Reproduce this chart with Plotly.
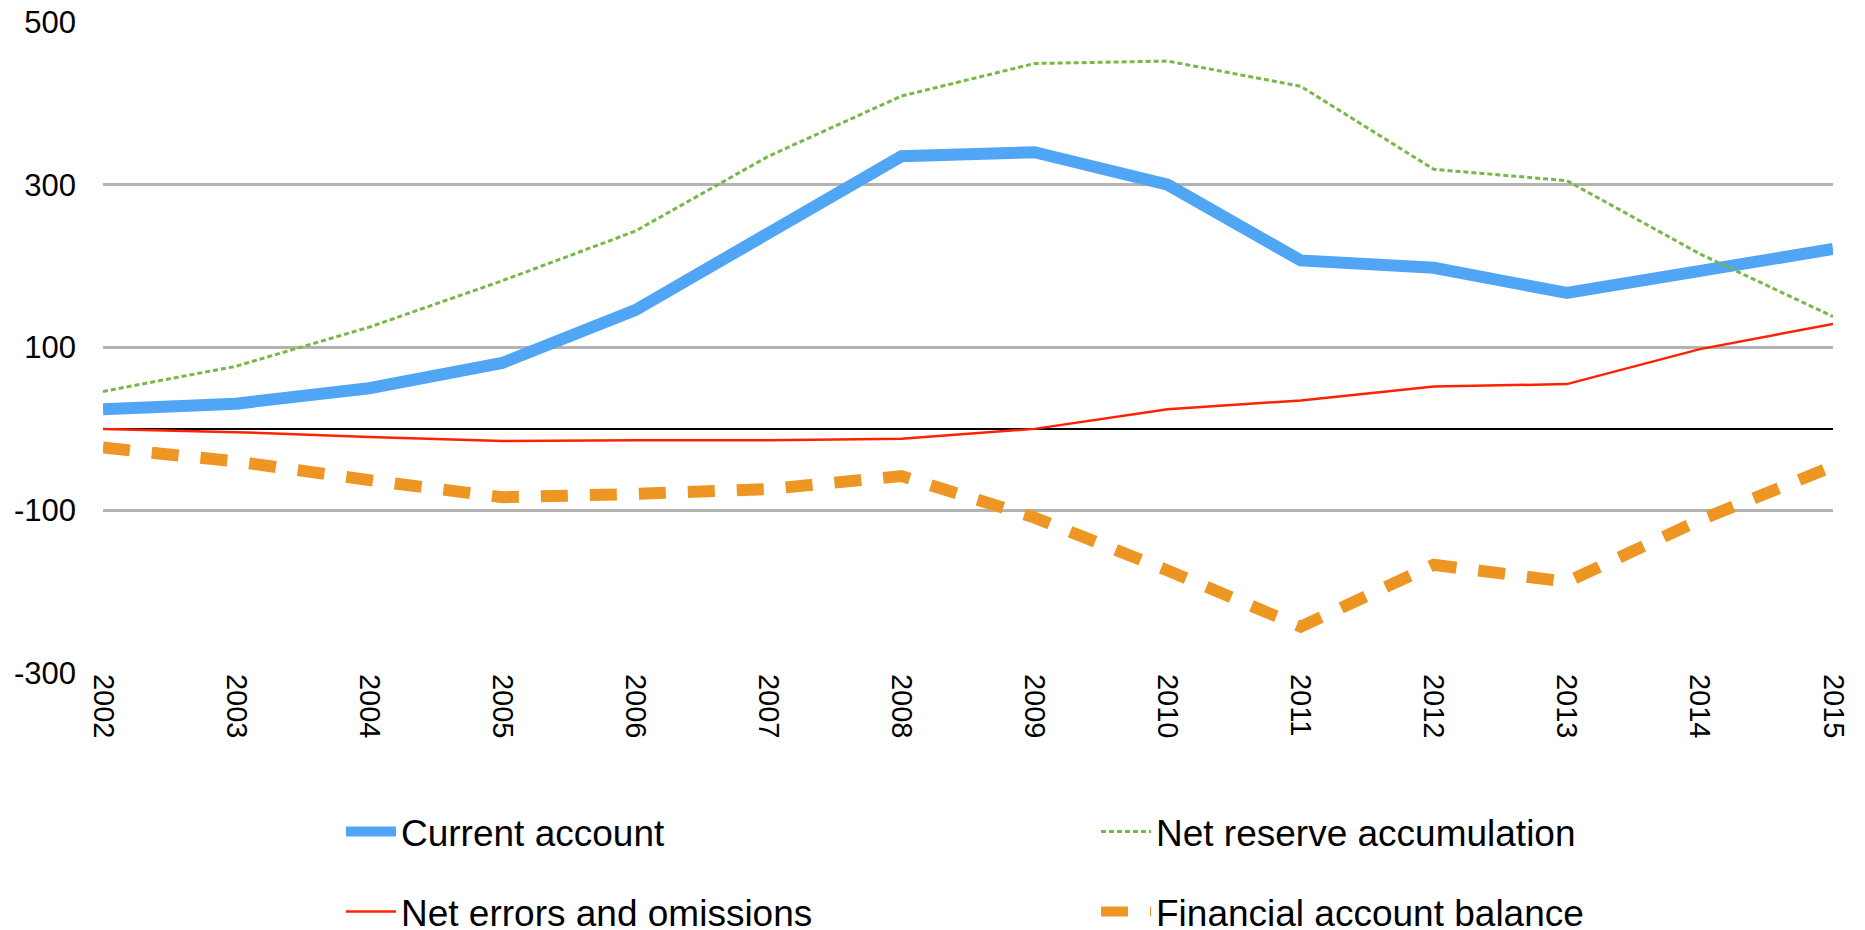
import plotly.graph_objects as go

years = list(range(2002, 2016))
current_account = [24, 31, 50, 81, 146, 239, 335, 340, 300, 207, 198, 167, 193, 221]
net_reserve = [46, 77, 125, 182, 243, 335, 409, 449, 452, 421, 319, 305, 215, 138]
net_errors = [0, -4, -10, -15, -14, -14, -12, 0, 24, 35, 52, 55, 98, 129]
financial_account = [-23, -40, -63, -84, -80, -74, -58, -109, -174, -243, -167, -188, -112, -46]
y_ticks = [-300, -100, 100, 300, 500]
y_labels = ["-300", "-100", "100", "300", "500"]

W, H = 1865, 930
FONT = "Liberation Sans, Arial, sans-serif"

fig = go.Figure()
fig.add_trace(go.Scatter(x=years, y=current_account, mode="lines", name="Current account",
                         line=dict(color="#50A5F5", width=12), legend="legend"))
fig.add_trace(go.Scatter(x=years, y=net_errors, mode="lines", name="Net errors and omissions",
                         line=dict(color="#FF2200", width=2.5), legend="legend3"))
fig.add_trace(go.Scatter(x=years, y=financial_account, mode="lines", name="Financial account balance",
                         line=dict(color="#EE9623", width=12, dash="27px,22px"), legend="legend4"))
fig.add_trace(go.Scatter(x=years, y=net_reserve, mode="lines", name="Net reserve accumulation",
                         line=dict(color="#78B846", width=3, dash="5px,3px"), legend="legend2"))

def leg(xpx, ypx):
    return dict(x=xpx / W, y=1 - ypx / H, xref="container", yref="container",
                xanchor="left", yanchor="middle", bgcolor="rgba(0,0,0,0)",
                font=dict(family=FONT, size=37, color="#000000"), itemwidth=50)

fig.update_layout(
    width=W, height=H,
    margin=dict(l=103, r=32, t=22, b=257, autoexpand=False),
    paper_bgcolor="white", plot_bgcolor="white",
    font=dict(family=FONT, color="#000000"),
    showlegend=True,
    legend=leg(341, 832),
    legend2=leg(1096, 832),
    legend3=leg(341, 912),
    legend4=leg(1096, 912),
    xaxis=dict(range=[2002, 2015], tickmode="array", tickvals=years,
               ticktext=[str(y) for y in years], tickangle=90,
               tickfont=dict(family=FONT, size=29, color="#000000"),
               showgrid=False, zeroline=False, showline=False, ticks=""),
    yaxis=dict(range=[-300, 500], tickmode="array", tickvals=y_ticks, ticktext=y_labels,
               tickfont=dict(family=FONT, size=31, color="#000000"),
               showgrid=True, gridcolor="#B3B3B3", gridwidth=2.5,
               zeroline=True, zerolinecolor="#000000", zerolinewidth=2,
               showline=False, ticks="", ticklabelstandoff=26),
)

fig.write_html("out.html")
